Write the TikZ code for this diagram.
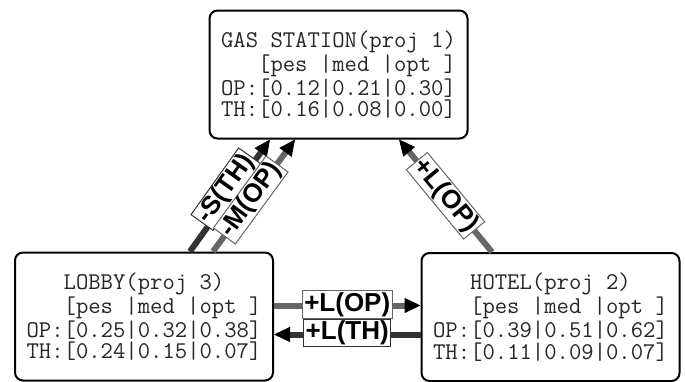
\documentclass[tikz,border=0pt]{standalone}
\usepackage{fontspec}
\newfontfamily\lblfont{Liberation Sans}
\usetikzlibrary{arrows.meta,calc}

\tikzset{
  proj/.style={draw, line width=1pt, rounded corners=4pt, fill=white,
    minimum width=129pt, minimum height=64pt, inner sep=0pt, align=center,
    text=black!85, font=\ttfamily\fontsize{12}{10.75}\selectfont},
  lbl/.style={draw, fill=white, line width=0.5pt, inner xsep=1pt, inner ysep=0.7pt,
    text height=9.5pt, text depth=2.7pt, font=\lblfont\bfseries\fontsize{13}{14}\selectfont},
  flow/.style={line width=3pt,
    -{Triangle[length=8pt, width=7.5pt, color=black, fill=black, line width=0.5pt]}},
  opflow/.style={flow, draw=black!60},
  thflow/.style={flow, draw=black!80}
}

\begin{document}
\begin{tikzpicture}[x=0.5pt, y=-0.5pt]
\useasboundingbox (0,0) rectangle (685,381);

% projects
\node[proj] (gas) at (338.5,74.5) {GAS STATION(proj 1)\\\mbox{\ \ \ }[pes |med |opt ]\\OP:[0.12|0.21|0.30]\\TH:[0.16|0.08|0.00]};
\node[proj] (lobby) at (144,316.5) {LOBBY(proj 3)\\\mbox{\ \ \ }[pes |med |opt ]\\OP:[0.25|0.32|0.38]\\TH:[0.24|0.15|0.07]};
\node[proj] (hotel) at (550.5,317) {HOTEL(proj 2)\\\mbox{\ \ \ }[pes |med |opt ]\\OP:[0.39|0.51|0.62]\\TH:[0.11|0.09|0.07]};

% links
\draw[thflow] ($(lobby.north)+(46,0)$) -- node[lbl, sloped, pos=0.52, yshift=3.5pt] (sth) {-S(TH)} ($(gas.south)+(-68.5,0)$);
\draw[opflow] ($(lobby.north)+(69,0)$) -- node[lbl, sloped, pos=0.46] (mop) {-M(OP)} ($(gas.south)+(-43.5,0)$);
\draw[opflow] ($(hotel.north)+(-58.5,0)$) -- node[lbl, sloped] (lopg) {+L(OP)} ($(gas.south)+(60.5,0)$);
\draw[opflow] ($(lobby.east)+(0,-11)$) -- node[lbl, yshift=0.5pt] (loph) {+L(OP)} ($(hotel.west)+(0,-11.5)$);
\draw[thflow] ($(hotel.west)+(0,17.5)$) -- node[lbl, yshift=0.8pt] (lthl) {+L(TH)} ($(lobby.east)+(0,18)$);
\end{tikzpicture}
\end{document}
